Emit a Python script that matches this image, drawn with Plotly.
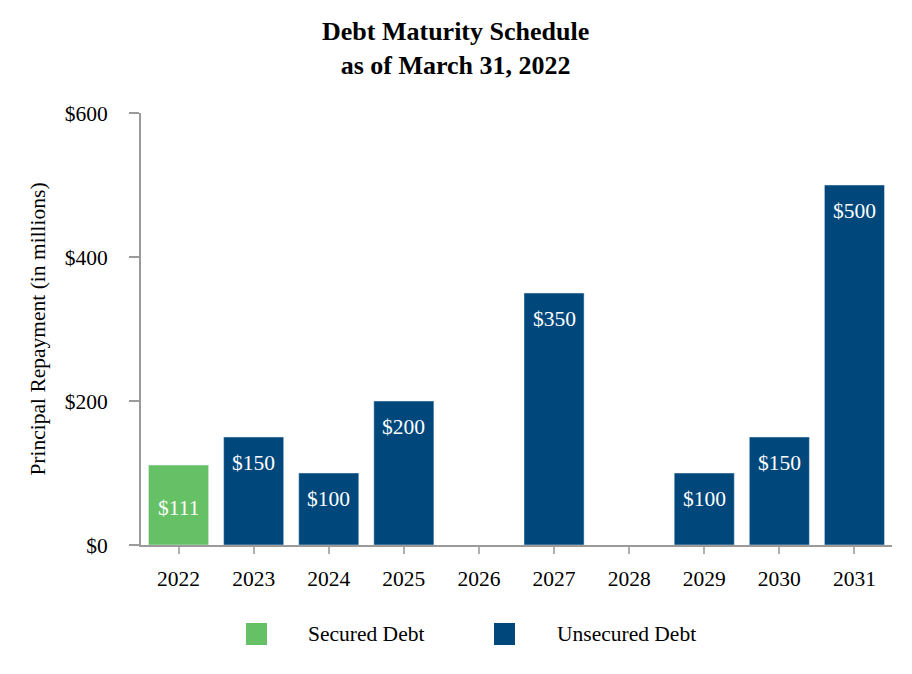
import plotly.graph_objects as go

years = ["2022", "2023", "2024", "2025", "2026", "2027", "2028", "2029", "2030", "2031"]
secured = [111, None, None, None, None, None, None, None, None, None]
unsecured = [None, 150, 100, 200, None, 350, None, 100, 150, 500]
y_ticks = [0, 200, 400, 600]
y_tick_labels = ["$0", "$200", "$400", "$600"]
legend_names = ["Secured Debt", "Unsecured Debt"]
title_text = "<b>Debt Maturity Schedule<br>as of March 31, 2022</b>"

GREEN = "#66c166"
BLUE = "#00487c"
AXIS = "#9a9a9a"
FONT = "Liberation Serif"
FS = 21.5

fig = go.Figure()
fig.add_trace(go.Bar(x=years, y=secured, name=legend_names[0], marker_color=GREEN,
                     width=0.8, showlegend=False))
fig.add_trace(go.Bar(x=years, y=unsecured, name=legend_names[1], marker_color=BLUE,
                     width=0.8, showlegend=False))

annotations = []
for i, v in enumerate(secured):
    if v is not None:
        annotations.append(dict(x=i, y=v, xref="x", yref="y", text=f"${v}", showarrow=False,
                                yanchor="middle", yshift=-43,
                                font=dict(color="white", size=FS, family=FONT)))
for i, v in enumerate(unsecured):
    if v is not None:
        annotations.append(dict(x=i, y=v, xref="x", yref="y", text=f"${v}", showarrow=False,
                                yanchor="middle", yshift=-26,
                                font=dict(color="white", size=FS, family=FONT)))

# title as annotation (two centred bold lines)
annotations.append(dict(x=0.4194, y=1.150, xref="paper", yref="paper", text=title_text,
                        showarrow=False, xanchor="center", yanchor="middle",
                        font=dict(size=26, family=FONT, color="black")))

# custom legend (large square swatches, wide gap to labels)
shapes = []
for (x0, x1), col in zip([(0.1398, 0.1678), (0.470, 0.498)], [GREEN, BLUE]):
    shapes.append(dict(type="rect", xref="paper", yref="paper", x0=x0, x1=x1,
                       y0=-0.2315, y1=-0.1806, fillcolor=col, line=dict(width=0)))
for xt, name in zip([0.2197, 0.5513], legend_names):
    annotations.append(dict(x=xt, y=-0.206, xref="paper", yref="paper", text=name,
                            showarrow=False, xanchor="left", yanchor="middle",
                            font=dict(size=FS, family=FONT, color="black")))
shapes.append(dict(type="line", xref="paper", yref="paper", x0=-0.015, x1=0, y0=0, y1=0,
                   line=dict(color=AXIS, width=2)))

fig.update_layout(
    width=904, height=666,
    margin=dict(l=133, r=20, t=105, b=129, autoexpand=False),
    paper_bgcolor="white", plot_bgcolor="white",
    font=dict(family=FONT, size=FS, color="black"),
    barmode="overlay",
    annotations=annotations,
    shapes=shapes,
    showlegend=False,
    xaxis=dict(type="category", range=[-0.5, 9.5], showline=True, linecolor=AXIS,
               linewidth=2, ticks="outside", tickcolor="#b0b0b0", ticklen=7, tickwidth=2,
               ticklabelstandoff=6,
               tickfont=dict(size=FS, family=FONT), showgrid=False, zeroline=False),
    yaxis=dict(range=[0, 600], tickvals=y_ticks, ticktext=y_tick_labels, showline=True,
               linecolor=AXIS, linewidth=2, ticks="outside", tickcolor=AXIS,
               ticklen=10, tickwidth=2, showgrid=False, zeroline=False,
               ticklabelstandoff=17,
               tickfont=dict(size=FS, family=FONT),
               title=dict(text="Principal Repayment (in millions)",
                          font=dict(size=FS, family=FONT), standoff=13)),
)

fig.write_html("out.html")
